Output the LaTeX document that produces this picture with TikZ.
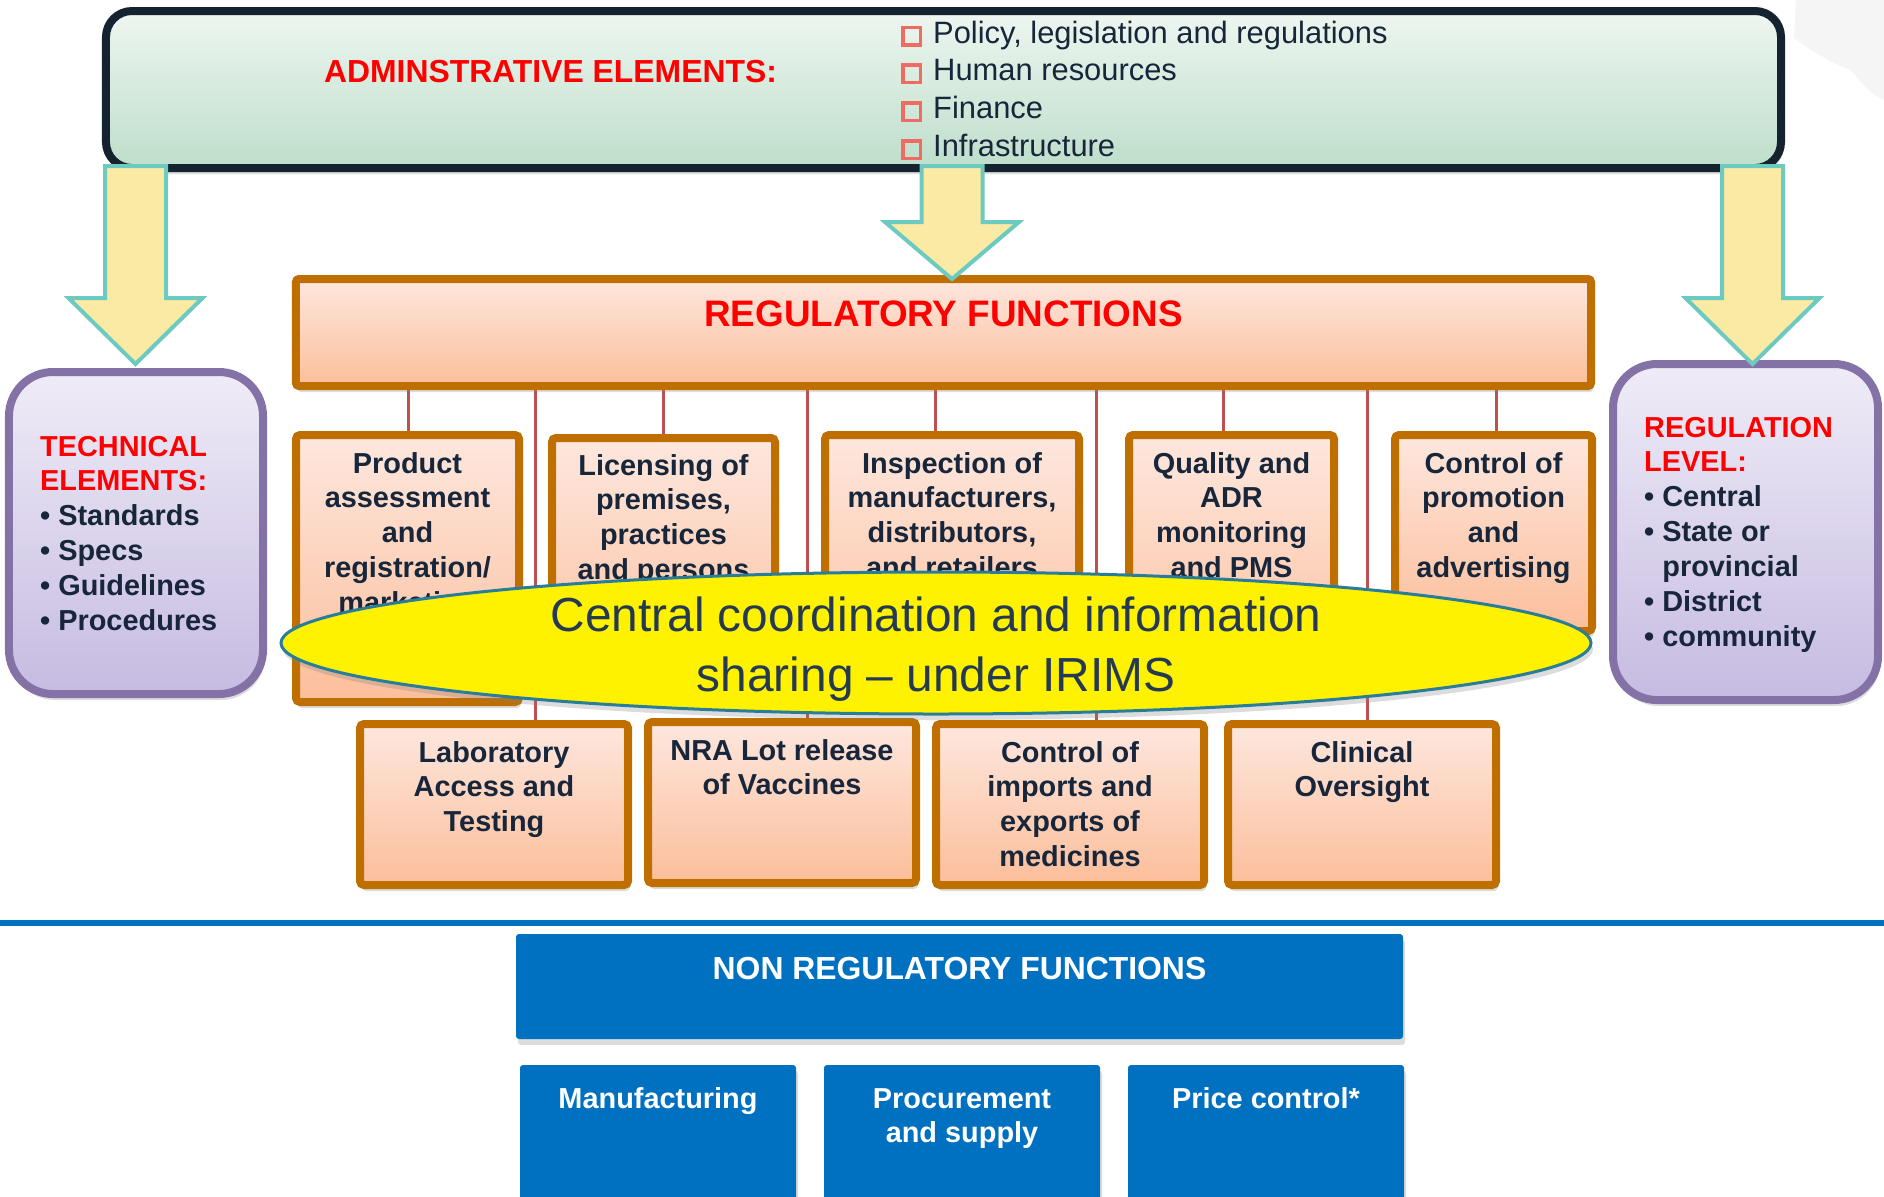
\documentclass[tikz,border=0pt]{standalone}
\usepackage{fontspec}
\setmainfont{Liberation Sans}
\usetikzlibrary{shapes.geometric,shadows,calc,backgrounds}
\definecolor{adminborder}{HTML}{15222F}
\definecolor{admintop}{HTML}{EEF6F0}
\definecolor{adminbot}{HTML}{BEDECB}
\definecolor{arrowfill}{HTML}{FBEAA4}
\definecolor{arrowline}{HTML}{6DCAC0}
\definecolor{orangeline}{HTML}{BF6E00}
\definecolor{peachtop}{HTML}{FDE7DE}
\definecolor{peachbot}{HTML}{FCBE9A}
\definecolor{connred}{HTML}{C0504D}
\definecolor{purpleline}{HTML}{8472A6}
\definecolor{lavtop}{HTML}{EFECF7}
\definecolor{lavbot}{HTML}{C6BBE1}
\definecolor{ellline}{HTML}{2A7D99}
\definecolor{navytext}{HTML}{17263A}
\definecolor{elltext}{HTML}{253A52}
\definecolor{nrblue}{HTML}{0070C0}
\definecolor{sqred}{HTML}{EE6C62}
\definecolor{blobgrey}{HTML}{F5F5F5}
\newcommand\redsq{{\color{sqred}\setlength{\fboxrule}{3.5bp}\setlength{\fboxsep}{0pt}\fbox{\rule{0pt}{14bp}\rule{14bp}{0pt}}}\hspace{11bp}}
\newcommand\blockarrow[4]{\draw[barrow] ({#1-30.5},#2) -- ({#1+30.5},#2) -- ({#1+30.5},#3) -- ({#1+67},#3) -- (#1,#4) -- ({#1-67},#3) -- ({#1-30.5},#3) -- cycle;}
\begin{document}
\begin{tikzpicture}[x=1bp,y=-1bp,
  shd/.style={drop shadow={opacity=0.28, shadow xshift=2bp, shadow yshift=-6bp}},
  adminbox/.style={draw=adminborder, line width=8bp, rounded corners=26bp, top color=admintop, bottom color=adminbot, inner sep=0, shd},
  funcbox/.style={draw=orangeline, line width=8bp, rounded corners=4bp, top color=peachtop, bottom color=peachbot, inner sep=0, shd},
  lavbox/.style={draw=purpleline, line width=8bp, rounded corners=44bp, top color=lavtop, bottom color=lavbot, inner sep=0, shd},
  bluebox/.style={fill=nrblue, rounded corners=3bp, inner sep=0, shd},
  conn/.style={draw=connred, line width=3bp},
  barrow/.style={fill=arrowfill, draw=arrowline, line width=4bp, line join=miter},
  btext/.style={font=\fontsize{29}{35}\selectfont\bfseries, text=navytext, align=center, anchor=north, inner sep=0},
  wtext/.style={font=\fontsize{29}{35}\selectfont\bfseries, text=white, align=center, anchor=north, inner sep=0}]
\useasboundingbox (0,0) rectangle (1884,1196);
\clip (0,0) rectangle (1884,1196);

% administrative elements
\node[adminbox, minimum width=1675bp, minimum height=157bp] (admin) at (943.5,89.5) {};
\node[font=\fontsize{32}{38}\selectfont\bfseries, text=red, anchor=base, inner sep=0] (admint) at (550.5,82) {ADMINSTRATIVE ELEMENTS:};
\node[font=\fontsize{31}{38}\selectfont, text=navytext, align=left, anchor=north west, inner sep=0] (adminlist) at (901,16.4) {\strut\redsq Policy, legislation and regulations\\\redsq Human resources\\\redsq Finance\\\redsq Infrastructure};

% regulatory functions
\node[funcbox, rounded corners=3bp, minimum width=1295bp, minimum height=107bp] (reg) at (943.5,332.5) {};
\node[font=\fontsize{37}{44}\selectfont\bfseries, text=red, anchor=base, inner sep=0] (regt) at (943.5,326) {REGULATORY FUNCTIONS};

% technical elements
\node[lavbox, minimum width=254bp, minimum height=322bp] (tech) at (136,533) {};
\node[btext, align=left, anchor=north west] (techt) at (40,431.5) {\strut\textcolor{red}{TECHNICAL}\\\textcolor{red}{ELEMENTS:}\\• Standards\\• Specs\\• Guidelines\\• Procedures};

% regulation level
\node[lavbox, minimum width=265bp, minimum height=336bp] (lev) at (1745.5,532) {};
\node[btext, align=left, anchor=north west] (levt) at (1644,412.5) {\strut\textcolor{red}{REGULATION}\\\textcolor{red}{LEVEL:}\\• Central\\• State or\\\hphantom{•\ }provincial\\• District\\• community};

% top row of functions
\node[funcbox, minimum width=223bp, minimum height=267bp] (p1) at (407.5,568.5) {};
\node[btext] (p1t) at (407.5,448.5) {\strut Product\\assessment\\and\\registration/\\marketing\\authorization};
\node[funcbox, minimum width=223bp, minimum height=258bp] (p2) at (663.5,567) {};
\node[btext] (p2t) at (663.5,450.5) {\strut Licensing of\\premises,\\practices\\and persons};
\node[funcbox, minimum width=254bp, minimum height=261bp] (p3) at (952,565.5) {};
\node[btext] (p3t) at (952,448.5) {\strut Inspection of\\manufacturers,\\distributors,\\and retailers};
\node[funcbox, minimum width=205bp, minimum height=261bp] (p4) at (1231.5,565.5) {};
\node[btext] (p4t) at (1231.5,448.5) {\strut Quality and\\ADR\\monitoring\\and PMS};
\node[funcbox, minimum width=197bp, minimum height=196bp] (p5) at (1493.5,533) {};
\node[btext] (p5t) at (1493.5,448.5) {\strut Control of\\promotion\\and\\advertising};

% bottom row of functions
\node[funcbox, minimum width=268bp, minimum height=161bp] (b1) at (494,804.5) {};
\node[btext] (b1t) at (494,737.5) {\strut Laboratory\\Access and\\Testing};
\node[funcbox, minimum width=268bp, minimum height=161bp] (b2) at (782,802.5) {};
\node[btext] (b2t) at (782,735.5) {\strut NRA Lot release\\of Vaccines};
\node[funcbox, minimum width=268bp, minimum height=161bp] (b3) at (1070,804.5) {};
\node[btext] (b3t) at (1070,737.5) {\strut Control of\\imports and\\exports of\\medicines};
\node[funcbox, minimum width=268bp, minimum height=161bp] (b4) at (1362,804.5) {};
\node[btext] (b4t) at (1362,737.5) {\strut Clinical\\Oversight};

% central coordination ellipse
\node[ellipse, draw=ellline, line width=3bp, fill=yellow, minimum width=1310bp, minimum height=142bp, inner sep=0, shd] (irims) at (936,643) {};
\node[font=\fontsize{48}{61}\selectfont, text=elltext, align=center, anchor=north, inner sep=0] (irimst) at (936,588.3) {\strut Central coordination and information\\sharing – under IRIMS};

% arrows from administrative elements
\blockarrow{135.5}{166}{298}{364}
\blockarrow{952}{166}{222}{279}
\blockarrow{1752.5}{166}{298}{364}

% divider and non regulatory functions
\coordinate (dl) at (0,923);
\coordinate (dr) at (1884,923);
\draw[nrblue, line width=6bp] (dl) -- (dr);
\node[bluebox, minimum width=887bp, minimum height=105bp] (nonreg) at (959.5,986.5) {};
\node[font=\fontsize{32}{38}\selectfont\bfseries, text=white, anchor=base, inner sep=0] (nonregt) at (959.5,979) {NON REGULATORY FUNCTIONS};
\node[bluebox, minimum width=276bp, minimum height=165bp] (m1) at (658,1147.5) {};
\node[wtext] (m1t) at (658,1083.5) {\strut Manufacturing};
\node[bluebox, minimum width=276bp, minimum height=165bp] (m2) at (962,1147.5) {};
\node[wtext] (m2t) at (962,1083.5) {\strut Procurement\\and supply};
\node[bluebox, minimum width=276bp, minimum height=165bp] (m3) at (1266,1147.5) {};
\node[wtext] (m3t) at (1266,1083.5) {\strut Price control*};

% connectors and background
\begin{scope}[on background layer]
\fill[blobgrey] (1796,0) -- (1884,0) -- (1884,100) .. controls (1870,95) and (1860,80) .. (1850,70) .. controls (1830,62) and (1810,50) .. (1794,38) -- cycle;
\coordinate (x1) at (408,0);
\coordinate (x2) at (663,0);
\coordinate (x3) at (935,0);
\coordinate (x4) at (1223,0);
\coordinate (x5) at (1496,0);
\coordinate (y1) at (535,0);
\coordinate (y2) at (807,0);
\coordinate (y3) at (1096,0);
\coordinate (y4) at (1367,0);
\draw[conn] (reg.south -| x1) -- (p1.north -| x1);
\draw[conn] (reg.south -| x2) -- (p2.north -| x2);
\draw[conn] (reg.south -| x3) -- (p3.north -| x3);
\draw[conn] (reg.south -| x4) -- (p4.north -| x4);
\draw[conn] (reg.south -| x5) -- (p5.north -| x5);
\draw[conn] (reg.south -| y1) -- (b1.north -| y1);
\draw[conn] (reg.south -| y2) -- (b2.north -| y2);
\draw[conn] (reg.south -| y3) -- (b3.north -| y3);
\draw[conn] (reg.south -| y4) -- (b4.north -| y4);
\end{scope}
\end{tikzpicture}
\end{document}
